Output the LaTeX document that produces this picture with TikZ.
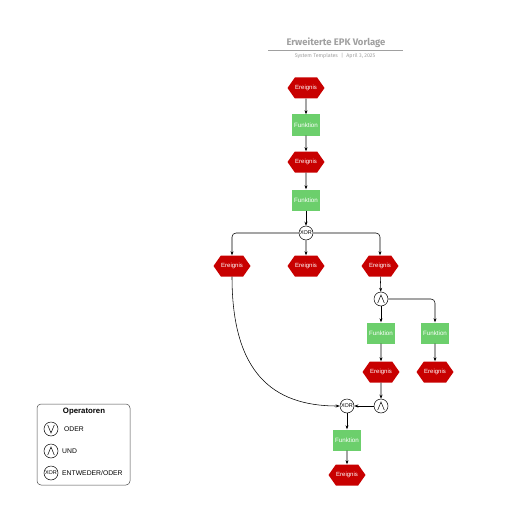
\documentclass[tikz,border=0pt]{standalone}
\usepackage{fontspec}
\setmainfont{Liberation Sans}
\newfontfamily\titlefont{Fira Sans}
\usetikzlibrary{shapes.symbols,arrows.meta}
\definecolor{evred}{HTML}{C80000}
\definecolor{fngreen}{HTML}{6CCF6C}
\definecolor{ttlgray}{HTML}{A0A0A0}
\tikzset{
  event/.style={signal, signal to=west and east, signal pointer angle=110, fill=evred, draw=none,
    minimum width=37pt, minimum height=21pt, inner sep=0pt, text=white, font=\fontsize{6}{7}\selectfont},
  func/.style={rectangle, fill=fngreen, draw=none, minimum width=28pt, minimum height=21pt, inner sep=0pt,
    text=white, font=\fontsize{6.2}{7}\selectfont},
  opc/.style={circle, draw=black, fill=white, line width=0.5pt, minimum size=14pt, inner sep=0pt},
  xorop/.style={opc, font=\fontsize{5.5}{6}\selectfont},
  andop/.style={opc, path picture={\draw[line width=0.5pt]
      ([xshift=-3.3pt,yshift=-4pt]path picture bounding box.center) --
      ([yshift=4pt]path picture bounding box.center) --
      ([xshift=3.3pt,yshift=-4pt]path picture bounding box.center);}},
  orop/.style={opc, path picture={\draw[line width=0.5pt]
      ([xshift=-3.3pt,yshift=4pt]path picture bounding box.center) --
      ([yshift=-4pt]path picture bounding box.center) --
      ([xshift=3.3pt,yshift=4pt]path picture bounding box.center);}},
  conn/.style={line width=0.55pt, -{Stealth[length=4pt,width=3pt]}},
  legtext/.style={anchor=west, font=\fontsize{6.8}{8}\selectfont, inner sep=0pt},
}
\begin{document}
\begin{tikzpicture}[x=1pt,y=-1pt]
\useasboundingbox[fill=white] (0,0) rectangle (516,516);
% title
\node[text=ttlgray, font=\titlefont\bfseries\fontsize{9.5}{11}\selectfont] (title) at (336,43) {Erweiterte EPK Vorlage};
\coordinate (tl) at (268,50);
\coordinate (tr) at (403,50);
\draw[ttlgray, line width=0.6pt] (tl) -- (tr);
\node[text=ttlgray, font=\titlefont\fontsize{5.3}{6}\selectfont] (sub) at (335,56) {System Templates \,\,|\,\, April 3, 2025};
% nodes
\node[event] (e1) at (306,88) {Ereignis};
\node[func] (f1) at (306,125) {Funktion};
\node[event] (e2) at (306,162) {Ereignis};
\node[func] (f2) at (306,200) {Funktion};
\node[xorop] (x1) at (306,233) {XOR};
\node[event] (eL) at (232,266) {Ereignis};
\node[event] (eM) at (306,266) {Ereignis};
\node[event] (eR) at (380,266) {Ereignis};
\node[andop] (a1) at (381,299) {};
\node[func] (f3) at (381,333) {Funktion};
\node[func] (f4) at (435,333) {Funktion};
\node[event] (e4) at (381,372) {Ereignis};
\node[event] (e5) at (435,372) {Ereignis};
\node[andop] (a2) at (381,406) {};
\node[xorop] (x2) at (347,406) {XOR};
\node[func] (f5) at (347,440) {Funktion};
\node[event] (e6) at (347,475) {Ereignis};
% connectors
\draw[conn] (e1) -- (f1);
\draw[conn] (f1) -- (e2);
\draw[conn] (e2) -- (f2);
\draw[conn] (f2) -- (x1);
\draw[conn] (x1) -- (eM);
\draw[conn, rounded corners=4pt] (x1.west) -| (eL.north);
\draw[conn, rounded corners=4pt] (x1.east) -| (eR.north);
\draw[conn] (eR) -- (a1);
\draw[conn] (a1) -- (f3);
\draw[conn, rounded corners=4pt] (a1.east) -| (f4.north);
\draw[conn] (f3) -- (e4);
\draw[conn] (f4) -- (e5);
\draw[conn] (e4) -- (a2);
\draw[conn] (a2) -- (x2);
\draw[conn] (eL.south) .. controls (232,372) and (272,406) .. (x2.west);
\draw[conn] (x2) -- (f5);
\draw[conn] (f5) -- (e6);
% legend
\node[draw=black!70, rounded corners=4pt, line width=0.5pt, minimum width=93pt, minimum height=81pt, inner sep=0pt] (leg) at (83.5,444.5) {};
\node[font=\bfseries\fontsize{7.8}{9}\selectfont] (legt) at (84,412) {Operatoren};
\node[orop] (lo) at (51,429) {};
\node[legtext] (lot) at (64,429) {ODER};
\node[andop] (la) at (51,451) {};
\node[legtext] (lat) at (62,451) {UND};
\node[xorop] (lx) at (51,473) {XOR};
\node[legtext] (lxt) at (62,473) {ENTWEDER/ODER};
\end{tikzpicture}
\end{document}
